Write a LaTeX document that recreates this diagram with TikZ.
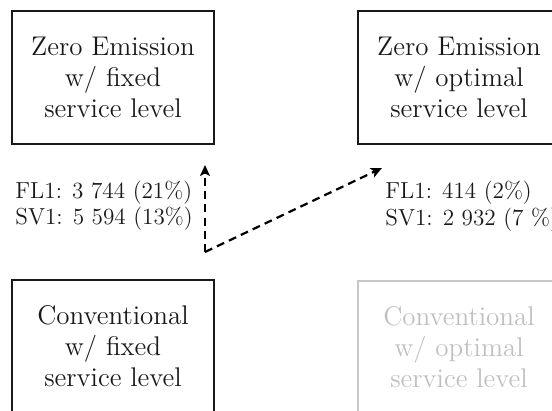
\documentclass[tikz,border=0pt]{standalone}
\usetikzlibrary{arrows.meta}

\begin{document}
\begin{tikzpicture}[x=0.5pt,y=-0.5pt,
  stage/.style={draw=black!90, line width=1.1pt, minimum width=101pt,
    minimum height=66.5pt, inner sep=0pt, align=center,
    font=\fontsize{13.5}{15.5}\selectfont, text=black!90},
  faded/.style={stage, draw=black!22, text=black!25},
  lbl/.style={anchor=base west, inner sep=0pt,
    font=\fontsize{11.6}{13}\selectfont, text=black!90},
  flow/.style={line width=1.1pt, dash pattern=on 4pt off 2.6pt,
    -{Stealth[length=5.5pt,width=5pt,inset=1.3pt]}}]
\useasboundingbox (0,0) rectangle (552,411);
\clip (0,0) rectangle (552,411);

% the four scenarios
\node[stage] (zeFixed)   at (113,77.5)  {Zero Emission\\w/ fixed\\service level};
\node[stage] (zeOpt)     at (459,77.5)  {Zero Emission\\w/ optimal\\service level};
\node[stage] (convFixed) at (113,346.5) {Conventional\\w/ fixed\\service level};
\node[faded] (convOpt)   at (459,347.5) {Conventional\\w/ optimal\\service level};

% savings figures
\node[lbl] (flLeft)  at (15,199)  {FL1: 3 744 (21\%)};
\node[lbl] (svLeft)  at (15,225)  {SV1: 5 594 (13\%)};
\node[lbl] (flRight) at (385,199) {FL1: 414 (2\%)};
\node[lbl] (svRight) at (385,226) {SV1: 2 932 (7 \%)};

% transitions from the conventional fixed-level case
\coordinate (bend)    at (205,252);
\coordinate (upTip)   at (205,165);
\coordinate (diagTip) at (382,168);
\draw[flow] (bend) -- (upTip);
\draw[flow] (bend) -- (diagTip);
\end{tikzpicture}
\end{document}
